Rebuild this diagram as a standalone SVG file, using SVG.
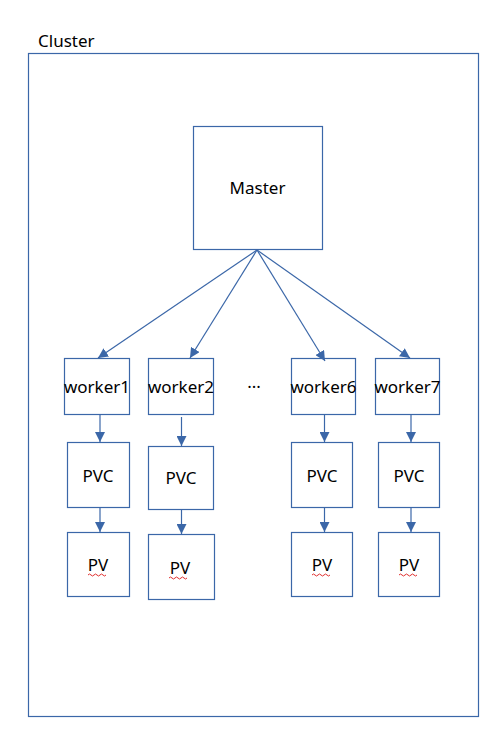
<svg xmlns="http://www.w3.org/2000/svg" width="503" height="739" viewBox="0 0 503 739">
<defs>
<style>
rect{fill:#fff;stroke:#3b67a8;stroke-width:1.2}
text{font-family:"Noto Sans","DejaVu Sans",sans-serif;font-size:17px;fill:#000;text-anchor:middle}
.c line{stroke:#3b67a8;stroke-width:1.2}
.sq{fill:none;stroke:#e03030;stroke-width:1}
</style>
<marker id="ah" viewBox="0 0 10 10" refX="10" refY="5" markerWidth="10" markerHeight="10" markerUnits="userSpaceOnUse" orient="auto">
<path d="M0,0 L10,5 L0,10 z" fill="#3b67a8"/>
</marker>
</defs>
<rect width="503" height="739" style="stroke:none;fill:#fff"/>
<g id="cluster">
<rect x="28.5" y="53.5" width="450" height="663"/>
<text x="38" y="47" style="text-anchor:start">Cluster</text>
</g>
<g id="master"><rect x="193.5" y="126.5" width="129" height="123"/><text x="257.5" y="194">Master</text></g>
<g id="worker1"><rect x="64.5" y="358.5" width="65" height="56"/><text x="97" y="393">worker1</text></g>
<g id="worker2"><rect x="148.5" y="358.5" width="65" height="56"/><text x="181" y="393">worker2</text></g>
<g id="worker6"><rect x="291.5" y="358.5" width="64" height="56"/><text x="323.5" y="393">worker6</text></g>
<g id="worker7"><rect x="375.5" y="358.5" width="64" height="56"/><text x="407.5" y="393">worker7</text></g>
<g id="dots"><text x="254" y="388">...</text></g>
<g id="pvc1"><rect x="67.5" y="442.5" width="62" height="65"/><text x="98" y="482">PVC</text></g>
<g id="pvc2"><rect x="148.5" y="446.5" width="65" height="63"/><text x="181" y="484">PVC</text></g>
<g id="pvc6"><rect x="291.5" y="442.5" width="61" height="65"/><text x="322" y="482">PVC</text></g>
<g id="pvc7"><rect x="378.5" y="442.5" width="61" height="65"/><text x="409" y="482">PVC</text></g>
<g id="pv1"><rect x="67.5" y="532.5" width="62" height="64"/><text x="98" y="571">PV</text><path class="sq" d="M88,575 q1.5,-2 3,0 t3,0 t3,0 t3,0 t3,0 t3,0"/></g>
<g id="pv2"><rect x="148.5" y="534.5" width="66" height="65"/><text x="180" y="574">PV</text><path class="sq" d="M169,578 q1.5,-2 3,0 t3,0 t3,0 t3,0 t3,0 t3,0"/></g>
<g id="pv6"><rect x="291.5" y="532.5" width="61" height="64"/><text x="322" y="571">PV</text><path class="sq" d="M312,575 q1.5,-2 3,0 t3,0 t3,0 t3,0 t3,0 t3,0"/></g>
<g id="pv7"><rect x="378.5" y="532.5" width="61" height="64"/><text x="409" y="571">PV</text><path class="sq" d="M399,575 q1.5,-2 3,0 t3,0 t3,0 t3,0 t3,0 t3,0"/></g>
<g class="c" id="connectors">
<line x1="257" y1="250" x2="98" y2="358" marker-end="url(#ah)"/>
<line x1="257" y1="250" x2="190" y2="358" marker-end="url(#ah)"/>
<line x1="257" y1="250" x2="325" y2="361" marker-end="url(#ah)"/>
<line x1="257" y1="250" x2="410" y2="358" marker-end="url(#ah)"/>
<line x1="100" y1="414" x2="100" y2="442" marker-end="url(#ah)"/>
<line x1="100" y1="507" x2="100" y2="532" marker-end="url(#ah)"/>
<line x1="181.5" y1="417" x2="181.5" y2="446" marker-end="url(#ah)"/>
<line x1="181.5" y1="509" x2="181.5" y2="534" marker-end="url(#ah)"/>
<line x1="324.5" y1="414" x2="324.5" y2="442" marker-end="url(#ah)"/>
<line x1="324.5" y1="507" x2="324.5" y2="532" marker-end="url(#ah)"/>
<line x1="411" y1="414" x2="411" y2="442" marker-end="url(#ah)"/>
<line x1="411" y1="507" x2="411" y2="532" marker-end="url(#ah)"/>
</g>
</svg>
